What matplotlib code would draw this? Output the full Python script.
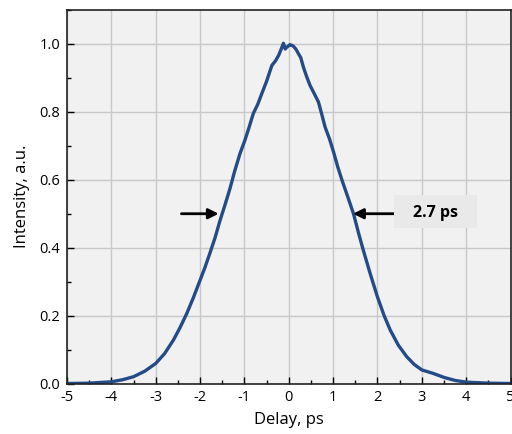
import matplotlib.pyplot as plt
from matplotlib.patches import Rectangle
from matplotlib.ticker import MultipleLocator

# Data
delay_ps = [-5.0, -4.5, -4.0, -3.75, -3.5, -3.25, -3.0, -2.8, -2.6, -2.45,
            -2.3, -2.15, -2.0, -1.9, -1.78, -1.66, -1.55, -1.44, -1.33, -1.22,
            -1.1, -0.99, -0.9, -0.8, -0.7, -0.61, -0.5, -0.38, -0.3, -0.23,
            -0.17, -0.12, -0.08, -0.05, 0.0, 0.03, 0.1, 0.16, 0.22, 0.27,
            0.33, 0.4, 0.48, 0.57, 0.67, 0.75, 0.82, 0.92, 1.01, 1.1,
            1.2, 1.33, 1.46, 1.57, 1.68, 1.84, 2.0, 2.15, 2.29, 2.47,
            2.66, 2.83, 3.0, 3.25, 3.5, 3.75, 4.0, 4.5, 5.0]
intensity = [0.0, 0.001, 0.005, 0.011, 0.02, 0.036, 0.059, 0.088, 0.128, 0.165,
             0.206, 0.253, 0.304, 0.338, 0.383, 0.43, 0.48, 0.525, 0.572, 0.625,
             0.677, 0.716, 0.752, 0.795, 0.822, 0.853, 0.89, 0.937, 0.95, 0.966,
             0.985, 1.002, 0.985, 0.99, 0.995, 0.998, 0.994, 0.985, 0.971, 0.96,
             0.932, 0.905, 0.878, 0.855, 0.829, 0.79, 0.755, 0.72, 0.682, 0.64,
             0.599, 0.55, 0.50, 0.445, 0.393, 0.322, 0.255, 0.2, 0.157, 0.113,
             0.079, 0.056, 0.040, 0.03, 0.018, 0.009, 0.004, 0.001, 0.0]

fwhm_label = "2.7 ps"

plt.rcParams["font.family"] = ["Open Sans", "DejaVu Sans"]
plt.rcParams["font.size"] = 10

fig = plt.figure(figsize=(5.12, 4.34), dpi=100)
ax = fig.add_axes([67 / 512, 1 - 383.5 / 434, (510.5 - 67) / 512, (383.5 - 10) / 434])
ax.set_facecolor("#f1f1f1")

ax.plot(delay_ps, intensity, color="#234b87", linewidth=2.4,
        solid_joinstyle="round", solid_capstyle="round")

ax.set_xlim(-5, 5)
ax.set_ylim(0, 1.1)
ax.xaxis.set_minor_locator(MultipleLocator(0.5))
ax.yaxis.set_minor_locator(MultipleLocator(0.1))
ax.set_xticks(range(-5, 6))
ax.set_xticklabels([str(v) for v in range(-5, 6)])
ax.set_yticks([0, 0.2, 0.4, 0.6, 0.8, 1.0])
ax.set_yticklabels(["0.0", "0.2", "0.4", "0.6", "0.8", "1.0"])
ax.tick_params(which="major", direction="in", length=5, width=1.0, labelsize=10.5, pad=5)
ax.tick_params(which="minor", direction="in", length=3, width=1.0)
ax.grid(True, which="major", color="#c8c8c8", linewidth=1.0)
ax.set_axisbelow(True)
for side in ["left", "bottom", "top", "right"]:
    ax.spines[side].set_color("#222222")
    ax.spines[side].set_linewidth(1.2)

ax.set_xlabel("Delay, ps", fontsize=12, labelpad=5)
ax.set_ylabel("Intensity, a.u.", fontsize=12, labelpad=7)

# FWHM arrows and label box
arrow_style = dict(arrowstyle="-|>,head_length=0.6,head_width=0.3", color="black",
                   lw=2, shrinkA=0, shrinkB=0)
ax.annotate("", xy=(-1.58, 0.5), xytext=(-2.42, 0.5), arrowprops=arrow_style)
ax.annotate("", xy=(1.45, 0.5), xytext=(2.40, 0.5), arrowprops=arrow_style)
ax.add_patch(Rectangle((2.37, 0.457), 1.88, 0.097, facecolor="#e9e9e9",
                       edgecolor="none", zorder=3))
ax.text(3.3, 0.503, fwhm_label, fontsize=11.5, fontweight="bold", ha="center",
        va="center", zorder=4)

fig.savefig("out.png", dpi=100)
